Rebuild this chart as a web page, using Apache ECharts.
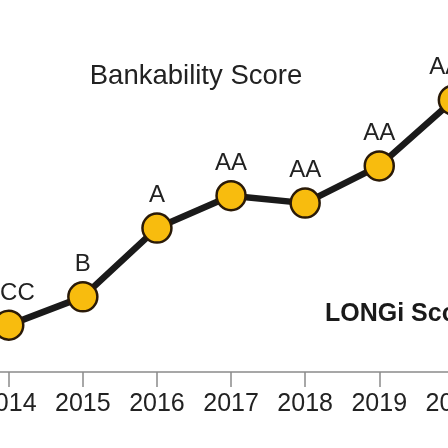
<!DOCTYPE html>
<html>
<head>
<meta charset="utf-8">
<script src="https://cdn.jsdelivr.net/npm/echarts@6/dist/echarts.min.js"></script>
<style>
  html, body { margin: 0; padding: 0; background: #fff; }
  #chart { width: 448px; height: 448px; }
</style>
</head>
<body>
<div id="chart"></div>
<script>
// years on the axis (2013 only anchors the left edge, it has no point)
var years = ['2013', '2014', '2015', '2016', '2017', '2018', '2019', '2020'];
// bankability score, estimated on a 0-100 scale
var scores = [null, 12.6, 20.2, 38.7, 47.4, 45.4, 55.4, 73.1];
var ratings = ['', 'CCC', 'B', 'A', 'AA', 'AA', 'AA', 'AAA'];

var chart = echarts.init(document.getElementById('chart'));

var option = {
    backgroundColor: '#ffffff',
    animation: false,
    grid: {
        left: -65.35,
        top: 0,
        width: 518.7,
        height: 372,
        containLabel: false,
        outerBoundsMode: 'none'
    },
    xAxis: {
        type: 'category',
        data: years,
        boundaryGap: false,
        axisLine: { lineStyle: { color: '#8a8a8a', width: 1.5 } },
        axisTick: { length: 15, interval: 0, lineStyle: { color: '#8a8a8a', width: 1.5 } },
        axisLabel: {
            interval: 0,
            margin: 20,
            fontSize: 25,
            color: '#222',
            fontFamily: 'Liberation Sans, Arial, sans-serif',
            hideOverlap: false
        },
        splitLine: { show: false }
    },
    yAxis: {
        type: 'value',
        min: 0,
        max: 100,
        show: false
    },
    graphic: [
        {
            type: 'text',
            x: 196,
            y: 76,
            style: {
                text: 'Bankability Score',
                font: '27.5px "Liberation Sans", Arial, sans-serif',
                fill: '#222',
                textAlign: 'center',
                textVerticalAlign: 'middle'
            }
        },
        {
            type: 'text',
            x: 325,
            y: 314,
            style: {
                text: 'LONGi Score',
                font: 'bold 25px "Liberation Sans", Arial, sans-serif',
                fill: '#1a1a1a',
                textAlign: 'left',
                textVerticalAlign: 'middle'
            }
        }
    ],
    series: [{
        type: 'line',
        data: scores,
        symbol: 'circle',
        symbolSize: 29,
        clip: false,
        lineStyle: { color: '#1a1a1a', width: 6.5 },
        itemStyle: { color: '#F8BC0E', borderColor: '#2a1a08', borderWidth: 2.5 },
        label: {
            show: true,
            position: 'top',
            distance: 4.5,
            fontSize: 24,
            color: '#222',
            fontFamily: 'Liberation Sans, Arial, sans-serif',
            formatter: function (p) {
                return ratings[p.dataIndex];
            }
        }
    }]
};
chart.setOption(option);
</script>
</body>
</html>
